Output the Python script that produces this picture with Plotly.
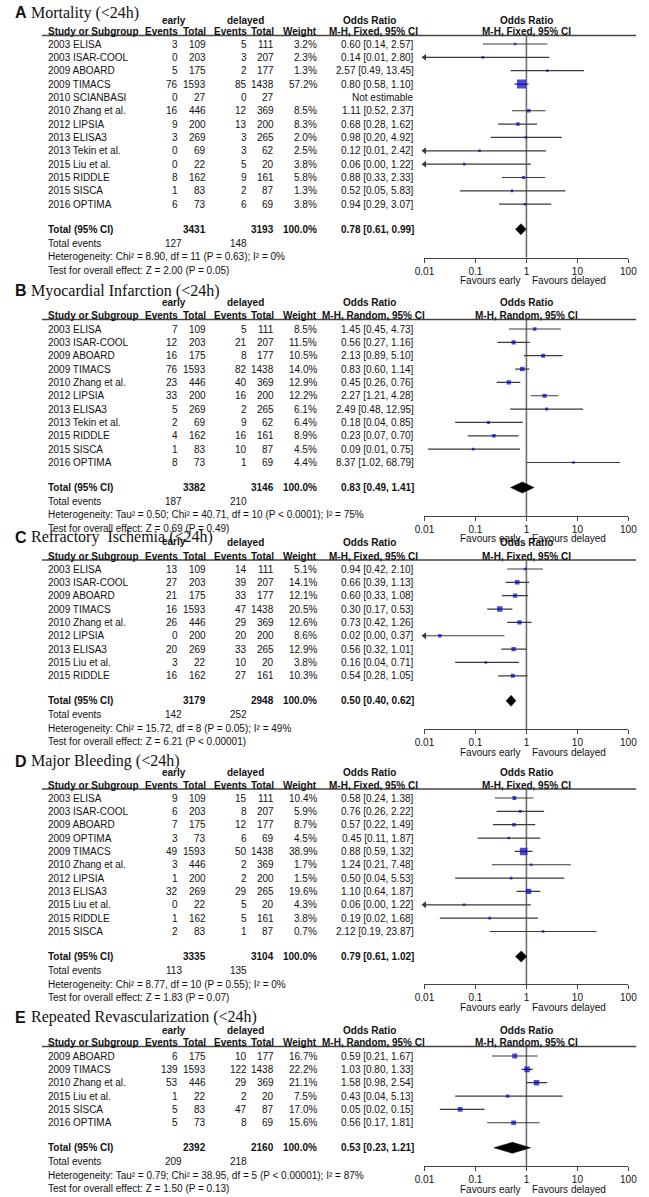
import plotly.graph_objects as go

W, H = 649, 1197
SANS = "Liberation Sans, Arial, sans-serif"
SERIF = "Liberation Serif, Times New Roman, serif"

# ------------------------------------------------------------------ data
# Panel A: Mortality (<24h), M-H Fixed
A_letter = "A"
A_title = "Mortality (<24h)"
A_method = "M-H, Fixed, 95% CI"
A_studies = ["2003 ELISA", "2003 ISAR-COOL", "2009 ABOARD", "2009 TIMACS", "2010 SCIANBASI",
             "2010 Zhang et al.", "2012 LIPSIA", "2013 ELISA3", "2013 Tekin et al.", "2015 Liu et al.",
             "2015 RIDDLE", "2015 SISCA", "2016 OPTIMA"]
A_e_events = [3, 0, 5, 76, 0, 16, 9, 3, 0, 0, 8, 1, 6]
A_e_total = [109, 203, 175, 1593, 27, 446, 200, 269, 69, 22, 162, 83, 73]
A_d_events = [5, 3, 2, 85, 0, 12, 13, 3, 3, 5, 9, 2, 6]
A_d_total = [111, 207, 177, 1438, 27, 369, 200, 265, 62, 20, 161, 87, 69]
A_weight = [3.2, 2.3, 1.3, 57.2, None, 8.5, 8.3, 2.0, 2.5, 3.8, 5.8, 1.3, 3.8]
A_or = [0.60, 0.14, 2.57, 0.80, None, 1.11, 0.68, 0.98, 0.12, 0.06, 0.88, 0.52, 0.94]
A_lo = [0.14, 0.007, 0.49, 0.58, None, 0.52, 0.28, 0.20, 0.007, 0.003, 0.33, 0.05, 0.29]
A_hi = [2.57, 2.80, 13.45, 1.10, None, 2.37, 1.62, 4.92, 2.42, 1.22, 2.33, 5.83, 3.07]
A_totals = [3431, 3193]
A_total_events = [127, 148]
A_pooled = [0.78, 0.61, 0.99]
A_het = "Heterogeneity: Chi² = 8.90, df = 11 (P = 0.63); I² = 0%"
A_test = "Test for overall effect: Z = 2.00 (P = 0.05)"

# Panel B: Myocardial Infarction (<24h), M-H Random
B_letter = "B"
B_title = "Myocardial Infarction (<24h)"
B_method = "M-H, Random, 95% CI"
B_studies = ["2003 ELISA", "2003 ISAR-COOL", "2009 ABOARD", "2009 TIMACS", "2010 Zhang et al.",
             "2012 LIPSIA", "2013 ELISA3", "2013 Tekin et al.", "2015 RIDDLE", "2015 SISCA", "2016 OPTIMA"]
B_e_events = [7, 12, 16, 76, 23, 33, 5, 2, 4, 1, 8]
B_e_total = [109, 203, 175, 1593, 446, 200, 269, 69, 162, 83, 73]
B_d_events = [5, 21, 8, 82, 40, 16, 2, 9, 16, 10, 1]
B_d_total = [111, 207, 177, 1438, 369, 200, 265, 62, 161, 87, 69]
B_weight = [8.5, 11.5, 10.5, 14.0, 12.9, 12.2, 6.1, 6.4, 8.9, 4.5, 4.4]
B_or = [1.45, 0.56, 2.13, 0.83, 0.45, 2.27, 2.49, 0.18, 0.23, 0.09, 8.37]
B_lo = [0.45, 0.27, 0.89, 0.60, 0.26, 1.21, 0.48, 0.04, 0.07, 0.0117, 1.02]
B_hi = [4.73, 1.16, 5.10, 1.14, 0.76, 4.28, 12.95, 0.85, 0.70, 0.75, 68.79]
B_totals = [3382, 3146]
B_total_events = [187, 210]
B_pooled = [0.83, 0.49, 1.41]
B_het = "Heterogeneity: Tau² = 0.50; Chi² = 40.71, df = 10 (P < 0.0001); I² = 75%"
B_test = "Test for overall effect: Z = 0.69 (P = 0.49)"

# Panel C: Refractory Ischemia (<24h), M-H Fixed
C_letter = "C"
C_title = "Refractory\u00a0 Ischemia (<24h)"
C_method = "M-H, Fixed, 95% CI"
C_studies = ["2003 ELISA", "2003 ISAR-COOL", "2009 ABOARD", "2009 TIMACS", "2010 Zhang et al.",
             "2012 LIPSIA", "2013 ELISA3", "2015 Liu et al.", "2015 RIDDLE"]
C_e_events = [13, 27, 21, 16, 26, 0, 20, 3, 16]
C_e_total = [109, 203, 175, 1593, 446, 200, 269, 22, 162]
C_d_events = [14, 39, 33, 47, 29, 20, 33, 10, 27]
C_d_total = [111, 207, 177, 1438, 369, 200, 265, 20, 161]
C_weight = [5.1, 14.1, 12.1, 20.5, 12.6, 8.6, 12.9, 3.8, 10.3]
C_or = [0.94, 0.66, 0.60, 0.30, 0.73, 0.02, 0.56, 0.16, 0.54]
C_lo = [0.42, 0.39, 0.33, 0.17, 0.42, 0.001, 0.32, 0.04, 0.28]
C_hi = [2.10, 1.13, 1.08, 0.53, 1.26, 0.37, 1.01, 0.71, 1.05]
C_totals = [3179, 2948]
C_total_events = [142, 252]
C_pooled = [0.50, 0.40, 0.62]
C_het = "Heterogeneity: Chi² = 15.72, df = 8 (P = 0.05); I² = 49%"
C_test = "Test for overall effect: Z = 6.21 (P < 0.00001)"

# Panel D: Major Bleeding (<24h), M-H Fixed
D_letter = "D"
D_title = "Major Bleeding (<24h)"
D_method = "M-H, Fixed, 95% CI"
D_studies = ["2003 ELISA", "2003 ISAR-COOL", "2009 ABOARD", "2009 OPTIMA", "2009 TIMACS",
             "2010 Zhang et al.", "2012 LIPSIA", "2013 ELISA3", "2015 Liu et al.", "2015 RIDDLE", "2015 SISCA"]
D_e_events = [9, 6, 7, 3, 49, 3, 1, 32, 0, 1, 2]
D_e_total = [109, 203, 175, 73, 1593, 446, 200, 269, 22, 162, 83]
D_d_events = [15, 8, 12, 6, 50, 2, 2, 29, 5, 5, 1]
D_d_total = [111, 207, 177, 69, 1438, 369, 200, 265, 20, 161, 87]
D_weight = [10.4, 5.9, 8.7, 4.5, 38.9, 1.7, 1.5, 19.6, 4.3, 3.8, 0.7]
D_or = [0.58, 0.76, 0.57, 0.45, 0.88, 1.24, 0.50, 1.10, 0.06, 0.19, 2.12]
D_lo = [0.24, 0.26, 0.22, 0.11, 0.59, 0.21, 0.04, 0.64, 0.003, 0.02, 0.19]
D_hi = [1.38, 2.22, 1.49, 1.87, 1.32, 7.48, 5.53, 1.87, 1.22, 1.68, 23.87]
D_totals = [3335, 3104]
D_total_events = [113, 135]
D_pooled = [0.79, 0.61, 1.02]
D_het = "Heterogeneity: Chi² = 8.77, df = 10 (P = 0.55); I² = 0%"
D_test = "Test for overall effect: Z = 1.83 (P = 0.07)"

# Panel E: Repeated Revascularization (<24h), M-H Random
E_letter = "E"
E_title = "Repeated Revascularization (<24h)"
E_method = "M-H, Random, 95% CI"
E_studies = ["2009 ABOARD", "2009 TIMACS", "2010 Zhang et al.", "2015 Liu et al.", "2015 SISCA", "2016 OPTIMA"]
E_e_events = [6, 139, 53, 1, 5, 5]
E_e_total = [175, 1593, 446, 22, 83, 73]
E_d_events = [10, 122, 29, 2, 47, 8]
E_d_total = [177, 1438, 369, 20, 87, 69]
E_weight = [16.7, 22.2, 21.1, 7.5, 17.0, 15.6]
E_or = [0.59, 1.03, 1.58, 0.43, 0.05, 0.56]
E_lo = [0.21, 0.80, 0.98, 0.04, 0.02, 0.17]
E_hi = [1.67, 1.33, 2.54, 5.13, 0.15, 1.81]
E_totals = [2392, 2160]
E_total_events = [209, 218]
E_pooled = [0.53, 0.23, 1.21]
E_het = "Heterogeneity: Tau² = 0.79; Chi² = 38.95, df = 5 (P < 0.00001); I² = 87%"
E_test = "Test for overall effect: Z = 1.50 (P = 0.13)"

tick_vals = [0.01, 0.1, 1, 10, 100]
tick_text = ["0.01", "0.1", "1", "10", "100"]
favours = ["Favours early", "Favours delayed"]

# ------------------------------------------------------------------ layout constants (pixels)
panels = [
    dict(letter=A_letter, title=A_title, method=A_method, studies=A_studies, ee=A_e_events, et=A_e_total,
         de=A_d_events, dt=A_d_total, w=A_weight, orr=A_or, lo=A_lo, hi=A_hi, totals=A_totals,
         tev=A_total_events, pooled=A_pooled, het=A_het, test=A_test,
         title_y=12.5, early_y=20.5, header_y=31.5, row0=44, axis_dy=1),
    dict(letter=B_letter, title=B_title, method=B_method, studies=B_studies, ee=B_e_events, et=B_e_total,
         de=B_d_events, dt=B_d_total, w=B_weight, orr=B_or, lo=B_lo, hi=B_hi, totals=B_totals,
         tev=B_total_events, pooled=B_pooled, het=B_het, test=B_test,
         title_y=290.5, early_y=302.5, header_y=315.5, row0=329, axis_dy=1),
    dict(letter=C_letter, title=C_title, method=C_method, studies=C_studies, ee=C_e_events, et=C_e_total,
         de=C_d_events, dt=C_d_total, w=C_weight, orr=C_or, lo=C_lo, hi=C_hi, totals=C_totals,
         tev=C_total_events, pooled=C_pooled, het=C_het, test=C_test,
         title_y=537, early_y=541, header_y=556, row0=569, axis_dy=1),
    dict(letter=D_letter, title=D_title, method=D_method, studies=D_studies, ee=D_e_events, et=D_e_total,
         de=D_d_events, dt=D_d_total, w=D_weight, orr=D_or, lo=D_lo, hi=D_hi, totals=D_totals,
         tev=D_total_events, pooled=D_pooled, het=D_het, test=D_test,
         title_y=761, early_y=772, header_y=785, row0=798, axis_dy=0),
    dict(letter=E_letter, title=E_title, method=E_method, studies=E_studies, ee=E_e_events, et=E_e_total,
         de=E_d_events, dt=E_d_total, w=E_weight, orr=E_or, lo=E_lo, hi=E_hi, totals=E_totals,
         tev=E_total_events, pooled=E_pooled, het=E_het, test=E_test,
         title_y=1017, early_y=1030, header_y=1042.5, row0=1056, axis_dy=-9),
]

STEP = 13.35
X_STUDY = 37.5
X_EE, X_ET, X_DE, X_DT, X_W = 175, 204, 246, 274, 318
X_OR_R = 418
X_OR_HDR = 374
X_EARLY, X_DELAYED = 169, 243
FX0, FX1 = 427, 637
FX_ONE = (FX0 + FX1) / 2
LINE_X0, LINE_X1 = 33, 645

CI_COLOR = "#3a3a3a"
SQ_COLOR = "#0000cc"
TXT = "#111111"

annotations = []
shapes = []
fig = go.Figure()


def px(x):
    return x / W


def py(y):
    return 1 - y / H


def ann(text, x, y, anchor="left", bold=False, size=10, family=SANS):
    if bold:
        text = "<b>" + text + "</b>"
    annotations.append(dict(text=text, x=px(x), y=py(y), xref="paper", yref="paper",
                            xanchor=anchor, yanchor="middle", showarrow=False,
                            font=dict(family=family, size=size, color=TXT)))


def fmt_or(o, l, h):
    return f"{o:.2f} [{l:.2f}, {h:.2f}]"


for i, p in enumerate(panels):
    n = i + 1
    xa = "x" if n == 1 else f"x{n}"
    ya = "y" if n == 1 else f"y{n}"
    nrow = len(p["studies"])
    rows_y = [p["row0"] + k * STEP for k in range(nrow)]
    total_y = rows_y[-1] + 25
    tev_y = total_y + 14
    het_y = tev_y + 13.5
    test_y = het_y + 13.5
    axis_y = het_y + p["axis_dy"]
    hline_y = p["header_y"] + 4

    # title
    ann(p["letter"], 3, p["title_y"], bold=True, size=16, family=SANS)
    ann(p["title"], 20, p["title_y"], size=16, family=SERIF)

    # headers
    dy2 = 2 if i == 2 else 0
    ann("early", X_EARLY, p["early_y"], anchor="center", bold=True)
    ann("delayed", X_DELAYED, p["early_y"] + dy2, anchor="center", bold=True)
    ann("Odds Ratio", X_OR_HDR - 4, p["early_y"] + dy2, anchor="center", bold=True)
    ann("Odds Ratio", FX_ONE, p["early_y"] + dy2, anchor="center", bold=True)
    hy = p["header_y"]
    ann("Study or Subgroup", X_STUDY, hy, bold=True)
    ann("Events", X_EE, hy, anchor="right", bold=True)
    ann("Total", X_ET, hy, anchor="right", bold=True)
    ann("Events", X_DE, hy, anchor="right", bold=True)
    ann("Total", X_DT, hy, anchor="right", bold=True)
    ann("Weight", X_W, hy, anchor="right", bold=True)
    ann(p["method"], X_OR_HDR, hy, anchor="center", bold=True)
    ann(p["method"], FX_ONE, hy, anchor="center", bold=True)
    shapes.append(dict(type="line", xref="paper", yref="paper", x0=px(LINE_X0), x1=px(LINE_X1),
                       y0=py(hline_y), y1=py(hline_y), line=dict(color="#444444", width=1.3)))

    # study rows
    for k in range(nrow):
        y = rows_y[k]
        ann(p["studies"][k], X_STUDY, y)
        ann(str(p["ee"][k]), X_EE, y, anchor="right")
        ann(str(p["et"][k]), X_ET, y, anchor="right")
        ann(str(p["de"][k]), X_DE, y, anchor="right")
        ann(str(p["dt"][k]), X_DT, y, anchor="right")
        if p["w"][k] is not None:
            ann(f"{p['w'][k]:.1f}%", X_W, y, anchor="right")
            ann(fmt_or(p["orr"][k], p["lo"][k], p["hi"][k]), X_OR_R, y, anchor="right")
        else:
            ann("Not estimable", X_OR_R, y, anchor="right")

    # totals
    ann("Total (95% CI)", X_STUDY, total_y, bold=True)
    ann(str(p["totals"][0]), X_ET, total_y, anchor="right", bold=True)
    ann(str(p["totals"][1]), X_DT, total_y, anchor="right", bold=True)
    ann("100.0%", X_W, total_y, anchor="right", bold=True)
    ann(fmt_or(*p["pooled"]), X_OR_R, total_y, anchor="right", bold=True)
    ann("Total events", X_STUDY, tev_y)
    ann(str(p["tev"][0]), X_EE + 4, tev_y, anchor="right")
    ann(str(p["tev"][1]), X_DE, tev_y, anchor="right")
    ann(p["het"], X_STUDY, het_y)
    ann(p["test"], X_STUDY, test_y)

    # favours
    ann(favours[0], FX_ONE - 4, axis_y + 23, anchor="right")
    ann(favours[1], FX_ONE + 4, axis_y + 23, anchor="left")

    # forest: CI lines
    lx, ly, ax_, ay_ = [], [], [], []
    sx, sy, ss = [], [], []
    for k in range(nrow):
        if p["orr"][k] is None:
            continue
        lo, hi = p["lo"][k], p["hi"][k]
        lo_c = max(lo, tick_vals[0])
        hi_c = min(hi, tick_vals[-1])
        lx += [lo_c, hi_c, None]
        ly += [rows_y[k], rows_y[k], None]
        if lo < tick_vals[0]:
            ax_.append(lo_c)
            ay_.append(rows_y[k])
        sx.append(p["orr"][k])
        sy.append(rows_y[k])
        ss.append(max(2.6, 1.2 * p["w"][k] ** 0.5))

    fig.add_trace(go.Scatter(x=[1, 1], y=[hline_y, axis_y], mode="lines", xaxis=xa, yaxis=ya,
                             line=dict(color="#6e6e6e", width=1.6), hoverinfo="skip", showlegend=False,
                             cliponaxis=False))
    fig.add_trace(go.Scatter(x=lx, y=ly, mode="lines", xaxis=xa, yaxis=ya,
                             line=dict(color=CI_COLOR, width=1.2), hoverinfo="skip", showlegend=False))
    if ax_:
        fig.add_trace(go.Scatter(x=ax_, y=ay_, mode="markers", xaxis=xa, yaxis=ya, cliponaxis=False,
                                 marker=dict(symbol="triangle-left", size=6, color=CI_COLOR),
                                 hoverinfo="skip", showlegend=False))
    fig.add_trace(go.Scatter(x=sx, y=sy, mode="markers", xaxis=xa, yaxis=ya,
                             marker=dict(symbol="square", size=ss, color=SQ_COLOR, line=dict(width=0)),
                             hoverinfo="skip", showlegend=False))
    po, pl, ph = p["pooled"]
    dh = 5.5
    fig.add_trace(go.Scatter(x=[pl, po, ph, po, pl], y=[total_y, total_y - dh, total_y, total_y + dh, total_y],
                             mode="lines", fill="toself", fillcolor="black", xaxis=xa, yaxis=ya,
                             line=dict(color="black", width=0.5), hoverinfo="skip", showlegend=False))

    xkey = "xaxis" if n == 1 else f"xaxis{n}"
    ykey = "yaxis" if n == 1 else f"yaxis{n}"
    fig.layout[xkey] = dict(type="log", range=[-2, 2], domain=[px(FX0), px(FX1)], anchor=ya,
                            tickvals=tick_vals, ticktext=tick_text, showline=True, linecolor="#444444",
                            linewidth=1.3, ticks="outside", ticklen=4, tickwidth=1.3, tickcolor="#444444",
                            tickfont=dict(family=SANS, size=10, color=TXT), showgrid=False, zeroline=False,
                            fixedrange=True)
    fig.layout[ykey] = dict(domain=[py(axis_y), py(hline_y)], range=[axis_y, hline_y], visible=False,
                            showgrid=False, zeroline=False, fixedrange=True, anchor=xa)

fig.update_layout(width=W, height=H, margin=dict(l=0, r=0, t=0, b=0), paper_bgcolor="white",
                  plot_bgcolor="rgba(0,0,0,0)", annotations=annotations, shapes=shapes, showlegend=False)
fig.write_html("out.html", config={"displayModeBar": False},
               post_script="document.body.style.margin='0';document.body.style.padding='0';")
